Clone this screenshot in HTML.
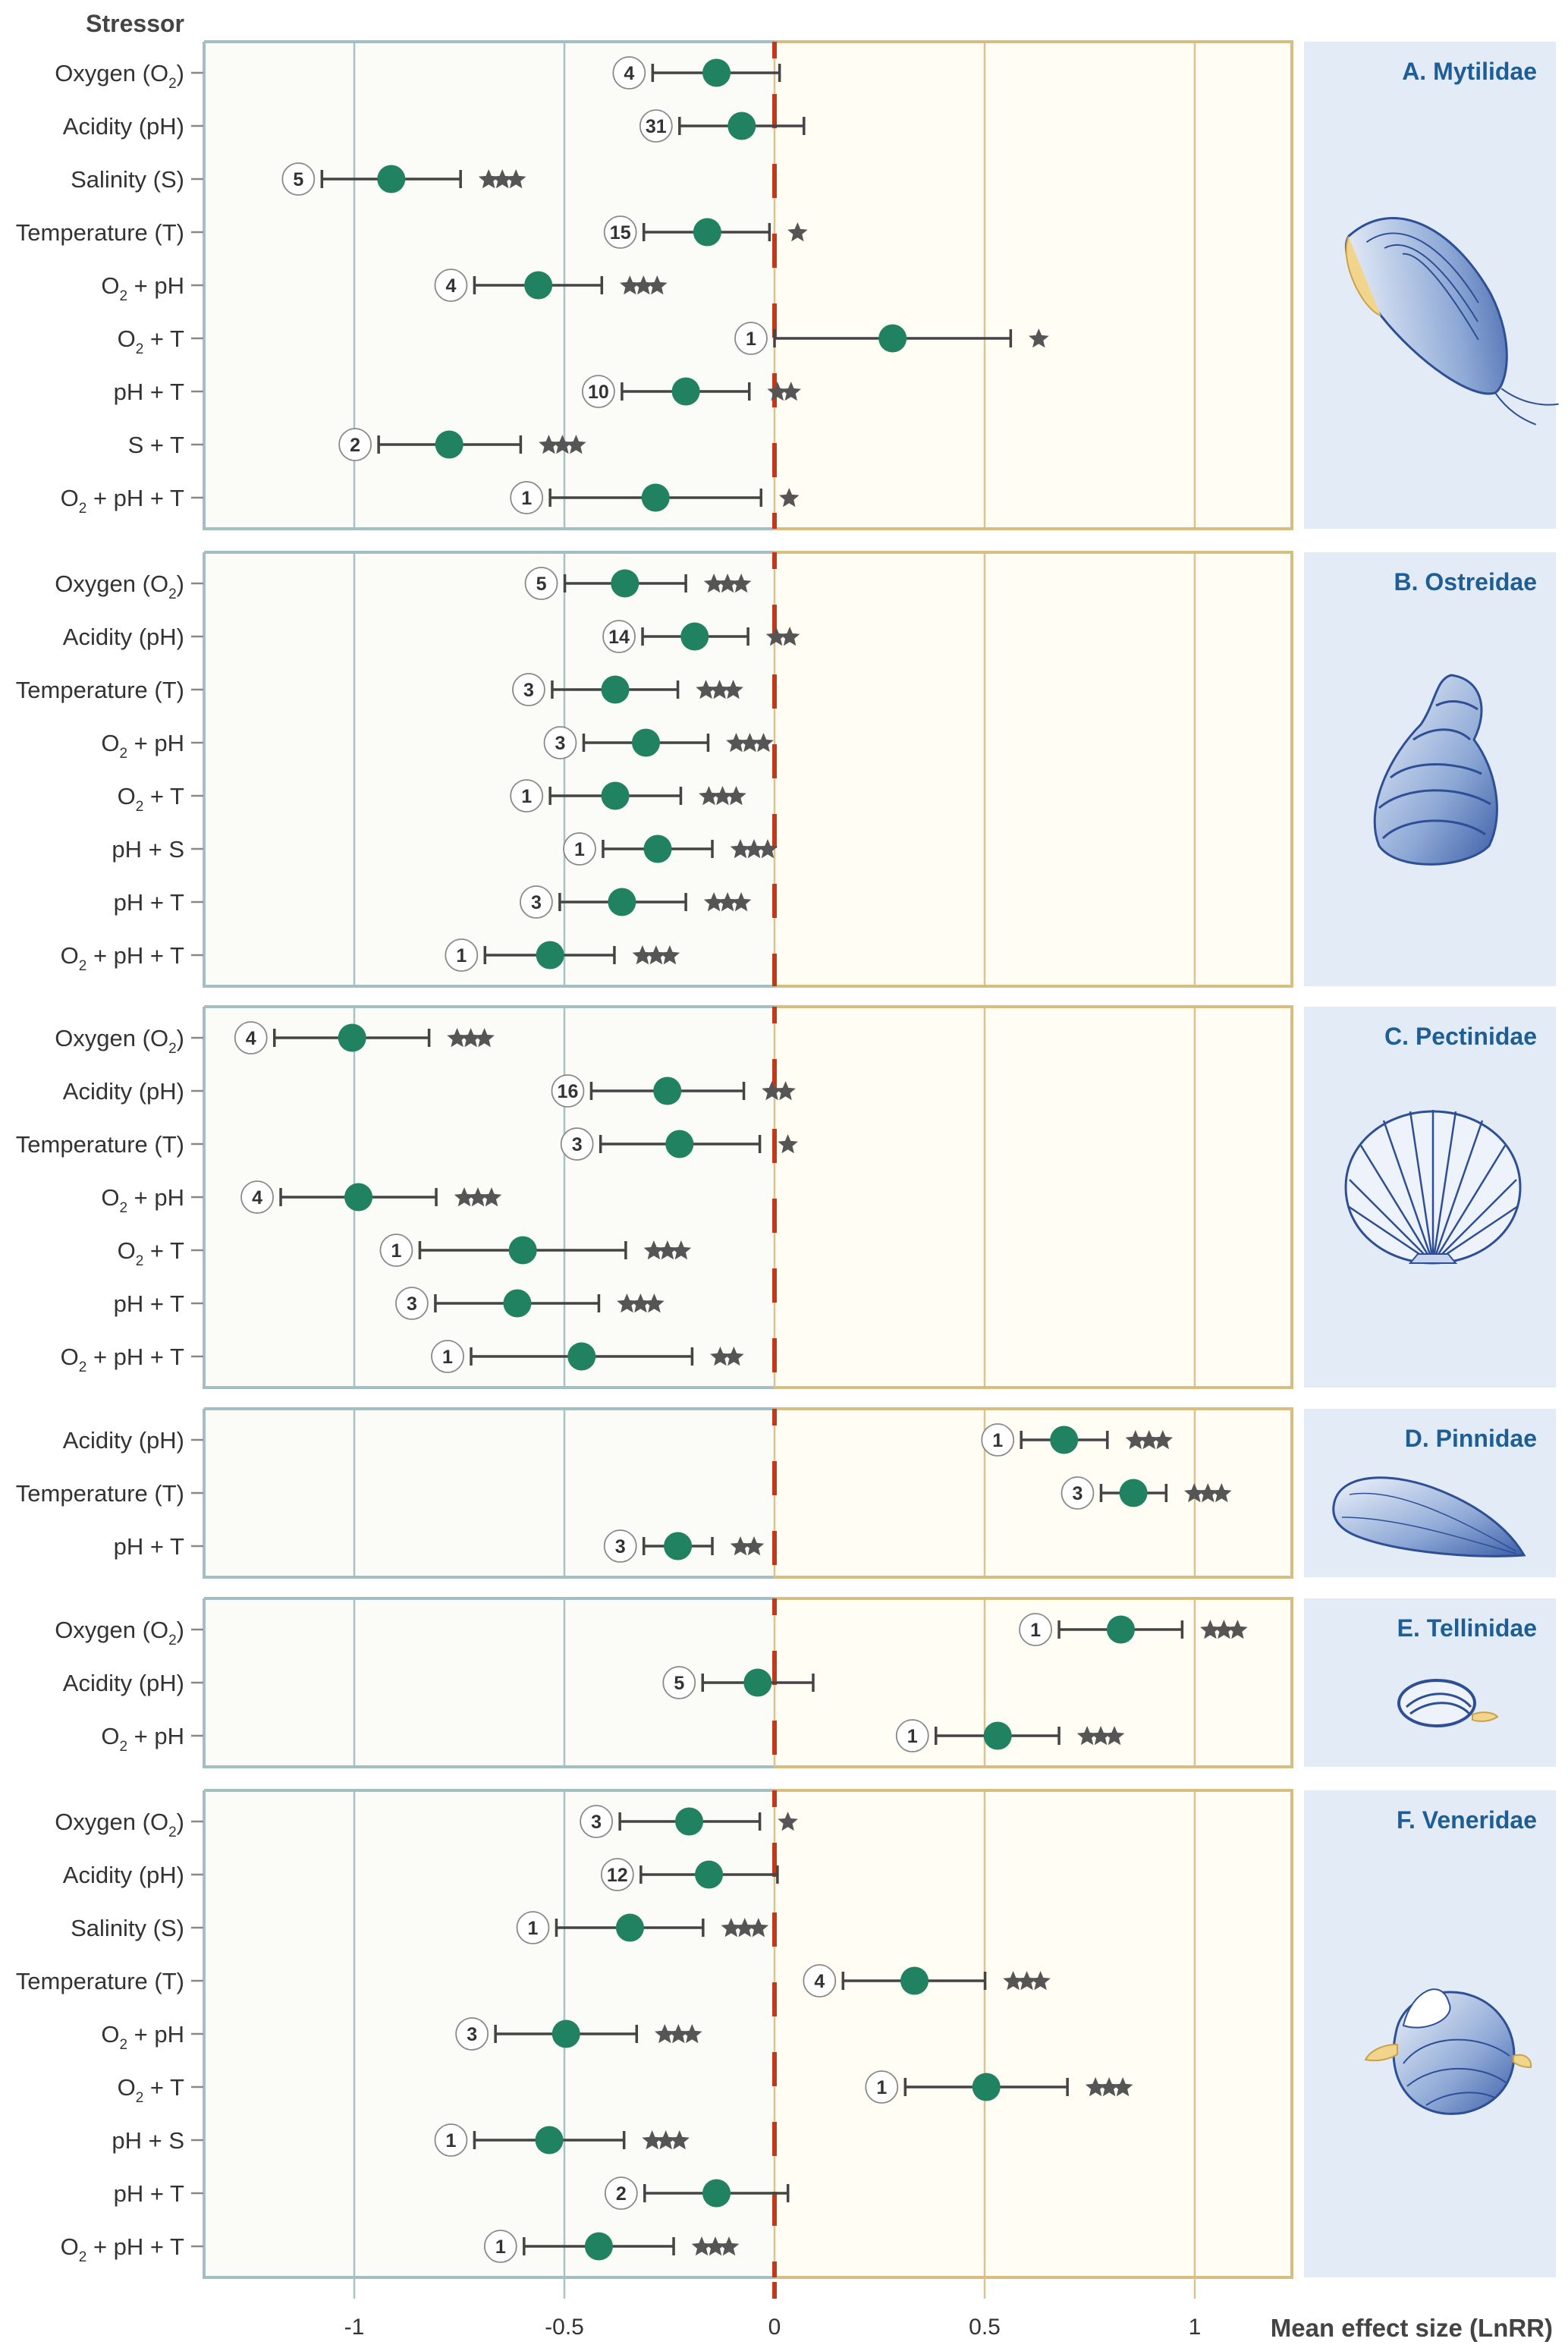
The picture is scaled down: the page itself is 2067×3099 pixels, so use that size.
<!DOCTYPE html>
<html><head><meta charset="utf-8"><style>
html,body{margin:0;padding:0;background:#fff;}
svg{display:block;font-family:"Liberation Sans",Arial,sans-serif;}
</style></head><body>
<svg id="chart" width="2067" height="3099" viewBox="0 0 2067 3099" xmlns="http://www.w3.org/2000/svg">
<defs>
<linearGradient id="shellg" x1="0" y1="0" x2="1" y2="1"><stop offset="0" stop-color="#eef3fb"/><stop offset="0.6" stop-color="#8ea9d6"/><stop offset="1" stop-color="#3d5fa8"/></linearGradient>
</defs>
<text x="243" y="42" text-anchor="end" font-size="32" font-weight="bold" fill="#444">Stressor</text>
<g id="panels"></g>
<g id="shells">
 <g transform="translate(1885,395) rotate(-35)">
  <path d="M-40,-130 C40,-140 80,-60 70,40 C60,110 20,150 0,150 C-30,140 -60,60 -65,-20 C-68,-80 -60,-120 -40,-130Z" fill="url(#shellg)" stroke="#2e4f96" stroke-width="3"/>
  <path d="M-40,-130 C-70,-110 -80,-40 -65,-20" fill="#f2d58c" stroke="#c9a24c" stroke-width="2"/>
  <path d="M-25,-110 C35,-110 55,-40 50,40 M-10,-90 C30,-85 40,-20 35,60 M5,-70 C25,-60 28,0 22,80" fill="none" stroke="#2e4f96" stroke-width="2"/>
  <path d="M10,150 C20,180 40,200 60,210 M0,150 C0,180 10,200 20,215" fill="none" stroke="#2e4f96" stroke-width="2"/>
 </g>
 <g transform="translate(1893,1015)">
  <path d="M20,-125 C60,-120 70,-80 50,-40 C80,0 90,60 70,100 C40,130 -50,135 -75,100 C-95,50 -60,-20 -20,-60 C0,-90 0,-120 20,-125Z" fill="url(#shellg)" stroke="#2e4f96" stroke-width="3"/>
  <path d="M-70,90 C-40,60 30,60 65,85 M-75,50 C-40,20 30,20 72,45 M-60,10 C-30,-15 30,-10 60,5 M-30,-40 C0,-60 30,-55 45,-40 M0,-85 C20,-95 40,-90 55,-80" fill="none" stroke="#2e4f96" stroke-width="3"/>
 </g>
 <g transform="translate(1889,1565)">
  <path d="M0,100 C-60,100 -115,60 -115,0 C-115,-60 -60,-100 0,-100 C60,-100 115,-60 115,0 C115,60 60,100 0,100Z" fill="#eef3fb" stroke="#2e4f96" stroke-width="3"/>
  <path d="M0,100 L-110,-10 M0,100 L-95,-55 M0,100 L-65,-88 M0,100 L-30,-100 M0,100 L0,-102 M0,100 L30,-100 M0,100 L65,-88 M0,100 L95,-55 M0,100 L110,-10 M0,100 L-112,25 M0,100 L112,25" stroke="#2e4f96" stroke-width="2.5" fill="none"/>
  <path d="M-30,100 L-20,88 L20,88 L30,100Z" fill="#c7d5ee" stroke="#2e4f96" stroke-width="2"/>
 </g>
 <g transform="translate(1879,2000)">
  <path d="M-120,-20 C-110,-60 -40,-60 20,-35 C70,-15 110,15 130,50 C60,55 -40,45 -90,25 C-115,15 -125,0 -120,-20Z" fill="url(#shellg)" stroke="#2e4f96" stroke-width="3"/>
  <path d="M-100,-30 C-40,-40 40,0 120,45 M-110,0 C-40,0 40,25 120,48" fill="none" stroke="#2e4f96" stroke-width="1.5"/>
 </g>
 <g transform="translate(1899,2245)">
  <ellipse cx="-5" cy="0" rx="50" ry="30" fill="#eef3fb" stroke="#2e4f96" stroke-width="4"/>
  <path d="M-45,5 C-20,-18 20,-18 40,5 M-40,14 C-15,-5 20,-5 38,14" fill="none" stroke="#2e4f96" stroke-width="3"/>
  <path d="M42,15 C55,10 70,12 75,18 C65,25 50,25 42,22Z" fill="#f2d58c" stroke="#c9a24c" stroke-width="2"/>
 </g>
 <g transform="translate(1910,2700)">
  <path d="M-70,-20 C-60,-80 30,-95 70,-40 C100,0 90,70 20,85 C-40,95 -85,50 -70,-20Z" fill="url(#shellg)" stroke="#2e4f96" stroke-width="3"/>
  <path d="M-60,-30 C-50,-75 -10,-95 0,-60 C10,-40 -30,-20 -60,-30Z" fill="#fff" stroke="#2e4f96" stroke-width="2"/>
  <path d="M-60,20 C-30,-20 40,-20 80,10 M-55,50 C-20,20 40,20 75,45 M-30,75 C0,55 40,55 60,65" fill="none" stroke="#2e4f96" stroke-width="2"/>
  <path d="M-68,-5 C-90,-5 -105,5 -110,15 C-95,18 -80,15 -68,8Z" fill="#f2d58c" stroke="#c9a24c" stroke-width="2"/>
  <path d="M85,10 C100,5 110,15 108,25 C98,25 90,22 85,18Z" fill="#f2d58c" stroke="#c9a24c" stroke-width="2"/>
 </g>
</g>
<g id="xaxis"></g>
</svg>
<script>
// ---- data ----
const panelTitles = ["A. Mytilidae","B. Ostreidae","C. Pectinidae","D. Pinnidae","E. Tellinidae","F. Veneridae"];
const labelsA = ["Oxygen (O2)","Acidity (pH)","Salinity (S)","Temperature (T)","O2 + pH","O2 + T","pH + T","S + T","O2 + pH + T"];
const meanA = [-0.138,-0.078,-0.912,-0.16,-0.562,0.281,-0.211,-0.774,-0.283];
const loA = [-0.29,-0.226,-1.077,-0.311,-0.714,0.0,-0.363,-0.942,-0.534];
const hiA = [0.012,0.07,-0.747,-0.012,-0.411,0.562,-0.06,-0.604,-0.032];
const nA = [4,31,5,15,4,1,10,2,1];
const starsA = [0,0,3,1,3,1,2,3,1];
const labelsB = ["Oxygen (O2)","Acidity (pH)","Temperature (T)","O2 + pH","O2 + T","pH + S","pH + T","O2 + pH + T"];
const meanB = [-0.356,-0.19,-0.379,-0.306,-0.379,-0.278,-0.363,-0.534];
const loB = [-0.499,-0.314,-0.529,-0.454,-0.534,-0.408,-0.511,-0.689];
const hiB = [-0.211,-0.063,-0.23,-0.158,-0.223,-0.148,-0.211,-0.381];
const nB = [5,14,3,3,1,1,3,1];
const starsB = [3,2,3,3,3,3,3,3];
const labelsC = ["Oxygen (O2)","Acidity (pH)","Temperature (T)","O2 + pH","O2 + T","pH + T","O2 + pH + T"];
const meanC = [-1.005,-0.255,-0.226,-0.99,-0.599,-0.612,-0.459];
const loC = [-1.19,-0.436,-0.414,-1.175,-0.844,-0.807,-0.722];
const hiC = [-0.822,-0.073,-0.035,-0.805,-0.354,-0.418,-0.196];
const nC = [4,16,3,4,1,3,1];
const starsC = [3,2,1,3,3,3,2];
const labelsD = ["Acidity (pH)","Temperature (T)","pH + T"];
const meanD = [0.689,0.854,-0.23];
const loD = [0.587,0.777,-0.311];
const hiD = [0.792,0.932,-0.148];
const nD = [1,3,3];
const starsD = [3,3,2];
const labelsE = ["Oxygen (O2)","Acidity (pH)","O2 + pH"];
const meanE = [0.824,-0.04,0.531];
const loE = [0.677,-0.171,0.384];
const hiE = [0.97,0.092,0.677];
const nE = [1,5,1];
const starsE = [3,0,3];
const labelsF = ["Oxygen (O2)","Acidity (pH)","Salinity (S)","Temperature (T)","O2 + pH","O2 + T","pH + S","pH + T","O2 + pH + T"];
const meanF = [-0.203,-0.156,-0.344,0.333,-0.496,0.504,-0.536,-0.138,-0.418];
const loF = [-0.368,-0.318,-0.519,0.163,-0.664,0.311,-0.714,-0.309,-0.596];
const hiF = [-0.035,0.007,-0.17,0.501,-0.328,0.697,-0.358,0.032,-0.24];
const nF = [3,12,1,4,3,1,1,2,1];
const starsF = [1,0,3,3,3,3,3,0,3];
const xTicks = [-1,-0.5,0,0.5,1];
const xTickLabels = ["-1","-0.5","0","0.5","1"];

// ---- layout ----
const NS="http://www.w3.org/2000/svg";
const X0=1021, UNIT=554, PL=269, PR=1703;
function X(v){return X0+UNIT*v;}
const tops=[55,728,1327,1857,2107,2360];
const rowStep=70, pad=41;
const panels=[
 [labelsA,meanA,loA,hiA,nA,starsA],[labelsB,meanB,loB,hiB,nB,starsB],[labelsC,meanC,loC,hiC,nC,starsC],
 [labelsD,meanD,loD,hiD,nD,starsD],[labelsE,meanE,loE,hiE,nE,starsE],[labelsF,meanF,loF,hiF,nF,starsF]];
function mk(tag,attrs,parent){const e=document.createElementNS(NS,tag);for(const k in attrs)e.setAttribute(k,attrs[k]);if(parent)parent.appendChild(e);return e;}
function starPath(cx,cy,R){let r=R*0.45,d="";for(let i=0;i<10;i++){const a=-Math.PI/2+i*Math.PI/5,rr=i%2?r:R;d+=(i?"L":"M")+(cx+rr*Math.cos(a)).toFixed(1)+","+(cy+rr*Math.sin(a)).toFixed(1);}return d+"Z";}
function setLabel(t,str){
 const parts=str.split("O2");
 parts.forEach((p,i)=>{
  if(i>0){const o=mk("tspan",{},t);o.textContent="O";const s=mk("tspan",{"font-size":"19",dy:"9"},t);s.textContent="2";const b=mk("tspan",{dy:"-9"},t);b.textContent=p;}
  else if(p){const b=mk("tspan",{},t);b.textContent=p;}
 });
}
const root=document.getElementById("panels");
panels.forEach((P,pi)=>{
 const [labels,mean,lo,hi,n,stars]=P;
 const top=tops[pi], bot=top+pad*2+(labels.length-1)*rowStep;
 const g=mk("g",{},root);
 
 
 mk("rect",{x:PL,y:top,width:X0-PL,height:bot-top,fill:"#fbfbf8"},g);
 mk("rect",{x:X0,y:top,width:PR-X0,height:bot-top,fill:"#fffdf4"},g);
 xTicks.forEach(t=>{ if(t!==0) mk("line",{x1:X(t),x2:X(t),y1:top,y2:bot,stroke:t<0?"#a9c2c6":"#dcc38e","stroke-width":2.5},g);});
 mk("path",{d:`M${PL},${top}H${X0}M${PL},${top}V${bot}H${X0}`,fill:"none",stroke:"#a3bfc3","stroke-width":4},g);
 mk("path",{d:`M${X0},${top}H${PR}V${bot}H${X0}`,fill:"none",stroke:"#d8bd80","stroke-width":4},g);
 mk("line",{x1:X0,x2:X0,y1:top,y2:bot,stroke:"#dcc38e","stroke-width":2.5},g);
 const zl=mk("line",{x1:X0,x2:X0,y1:top,y2:bot,stroke:"#c0391b","stroke-width":6,"stroke-dasharray":"45 47","stroke-dashoffset":"23"},g);
 
 
 const ip=mk("rect",{x:1719,y:top,width:332,height:bot-top,fill:"#e3ecf6"},g);
 
 
 const tt=mk("text",{x:2026,y:top+50,"text-anchor":"end","font-size":"32","font-weight":"bold",fill:"#1f5e95"},g);
 tt.textContent=panelTitles[pi];
 
 
 labels.forEach((lab,i)=>{
  const y=top+pad+i*rowStep;
  const row=mk("g",{},g);
  
  
  const t=mk("text",{x:243,y:y+11,"text-anchor":"end","font-size":"31",fill:"#333"},row);
  setLabel(t,lab);
  
  
  mk("line",{x1:252,x2:268,y1:y,y2:y,stroke:"#888","stroke-width":2.5},row);
  const xl=X(lo[i]),xh=X(hi[i]),xm=X(mean[i]);
  const eb=mk("path",{d:`M${xl},${y}H${xh}M${xl},${y-12}V${y+12}M${xh},${y-12}V${y+12}`,stroke:"#444","stroke-width":3.5,fill:"none"},row);
  
  
  const c=mk("circle",{cx:xl-31,cy:y,r:21,fill:"#fff",stroke:"#8a8a8a","stroke-width":1.8},row);
  
  
  const ct=mk("text",{x:xl-31,y:y+9,"text-anchor":"middle","font-size":"25","font-weight":"bold",fill:"#333"},row);
  ct.textContent=n[i];
  
  
  const dot=mk("circle",{cx:xm,cy:y,r:18.5,fill:"#218262"},row);
  
  
  for(let s=0;s<stars[i];s++){
   const st=mk("path",{d:starPath(xh+37+s*18,y+1,14),fill:"#555"},row);
   
   
  }
 });
});
const ax=document.getElementById("xaxis");


const lastBot=tops[5]+pad*2+(labelsF.length-1)*rowStep;
xTicks.forEach((t,i)=>{
 if(t===0) mk("line",{x1:X(t),x2:X(t),y1:lastBot+6,y2:lastBot+28,stroke:"#c0391b","stroke-width":6},ax);
 else mk("line",{x1:X(t),x2:X(t),y1:lastBot,y2:lastBot+28,stroke:t<0?"#a9c2c6":"#dcc38e","stroke-width":2.5},ax);
 const tl=mk("text",{x:X(t),y:3077,"text-anchor":"middle","font-size":"30",fill:"#333"},ax);
 tl.textContent=xTickLabels[i];
 
 
});
const xt=mk("text",{x:2047,y:3080,"text-anchor":"end","font-size":"33","font-weight":"bold",fill:"#444"},ax);
xt.textContent="Mean effect size (LnRR)";


</script>
</body></html>
